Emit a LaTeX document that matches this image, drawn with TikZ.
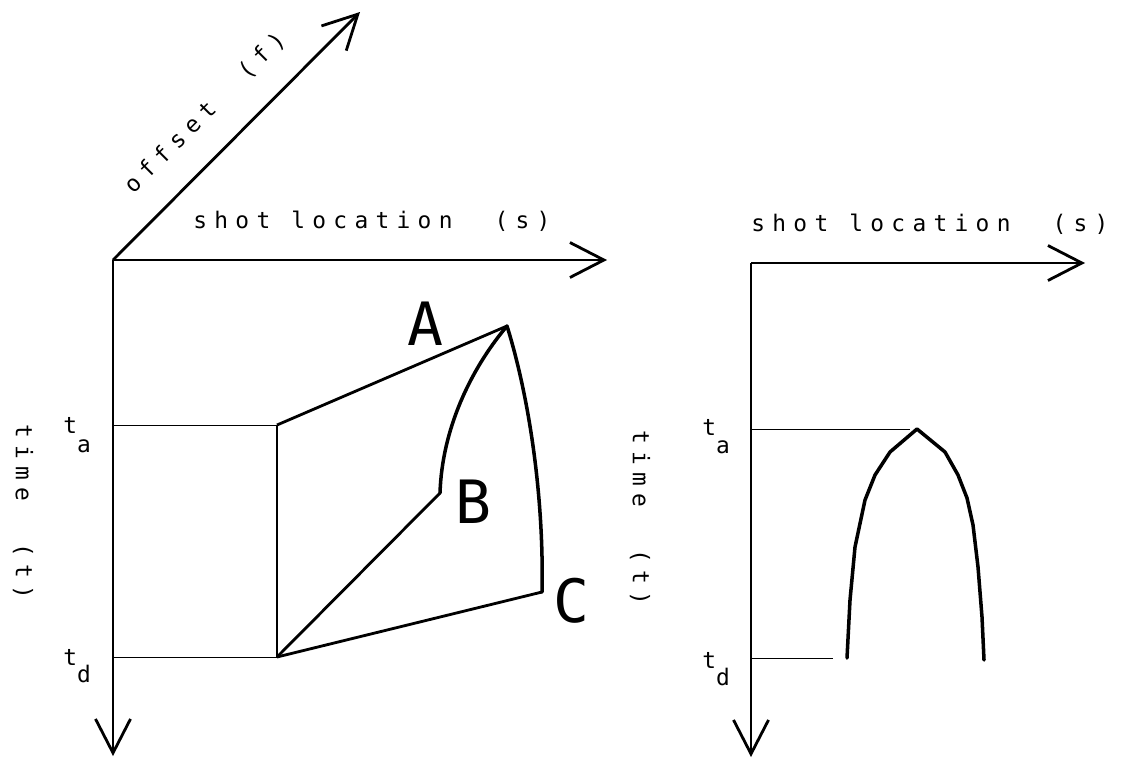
\documentclass[tikz,border=0pt]{standalone}
\usepackage{fontspec}
\newfontfamily\plotfont[LetterSpace=32]{DejaVu Sans Mono}
\usetikzlibrary{arrows.meta, positioning}

\begin{document}
\begin{tikzpicture}[x=0.02cm, y=-0.02cm,
  axis/.style={line width=1.6pt, -{Straight Barb[length=0.68cm, width=0.7cm]}},
  guide/.style={line width=0.5pt},
  edge/.style={line width=1.6pt, line join=round},
  front/.style={line width=2pt, line cap=round},
  lbl/.style={font={\plotfont\fontsize{13}{15}\selectfont}, inner sep=0pt},
  corner/.style={font={\plotfont\fontsize{34}{40}\selectfont}, inner sep=0pt}]
\useasboundingbox (0,0) rectangle (1121,758);
% left: cube of shots and offsets
\coordinate (O1) at (113,260);
\coordinate (s1) at (607,260);
\coordinate (t1) at (113,756);
\coordinate (f1) at (360,12);
\draw[axis] (O1) -- (s1);
\draw[axis] (O1) -- (t1);
\draw[axis] (O1) -- (f1);
\node[lbl, anchor=base west] (sl1) at (193,228) {shot location~~(s)};
\node[lbl, rotate=45] (of1) at (205,113) {offset~~(f)};
\node[lbl, rotate=-90] (tm1) at (23,512) {time~~(t)};
\coordinate (ta1) at (277,425); %top
\coordinate (td1) at (277,657); %bottom
\coordinate (A) at (507,326);
\coordinate (B) at (440,493);
\coordinate (C) at (542,592);
\draw[guide] (O1 |- ta1) -- (ta1);
\draw[guide] (O1 |- td1) -- (td1);
\node[lbl, anchor=base west] (la1) at (63,433) {t\raisebox{-0.38cm}{a}};
\node[lbl, anchor=base west] (ld1) at (63,665) {t\raisebox{-0.34cm}{d}};
\draw[edge] (ta1) -- (A);
\draw[edge] (ta1) -- (td1);
\draw[edge] (td1) -- (C);
\draw[edge] (td1) -- (B);
\draw[front] (A) .. controls (470,370) and (442,430) .. (B);
\draw[front] (A) .. controls (530,400) and (544,500) .. (C);
\node[corner] (nA) at (425,324) {A};
\node[corner] (nB) at (473,502) {B};
\node[corner] (nC) at (571,601) {C};
% right: one offset section
\coordinate (O2) at (751,263);
\coordinate (s2) at (1085,263);
\coordinate (t2) at (751,757);
\draw[axis] (O2) -- (s2);
\draw[axis] (O2) -- (t2);
\node[lbl, anchor=base west] (sl2) at (751,231) {shot location~~(s)};
\node[lbl, rotate=-90] (tm2) at (640,518) {time~~(t)};
\coordinate (pk) at (917,429);
\coordinate (bl) at (847,658);
\coordinate (br) at (984,660);
\draw[guide] (O2 |- pk) -- ([xshift=-0.14cm]pk);
\draw[guide] (O2 |- bl) -- ([xshift=-0.28cm]bl);
\node[lbl, anchor=base west] (la2) at (702,435) {t\raisebox{-0.36cm}{a}};
\node[lbl, anchor=base west] (ld2) at (702,668) {t\raisebox{-0.34cm}{d}};
\draw[front, line join=round] (bl) -- (850,600) -- (855,547) -- (865,500) -- (875,475)
  -- (890,452) -- (pk) -- (945,452) -- (958,475) -- (967,498) -- (973,525)
  -- (978,567) -- (982,617) -- (br);
\end{tikzpicture}
\end{document}
